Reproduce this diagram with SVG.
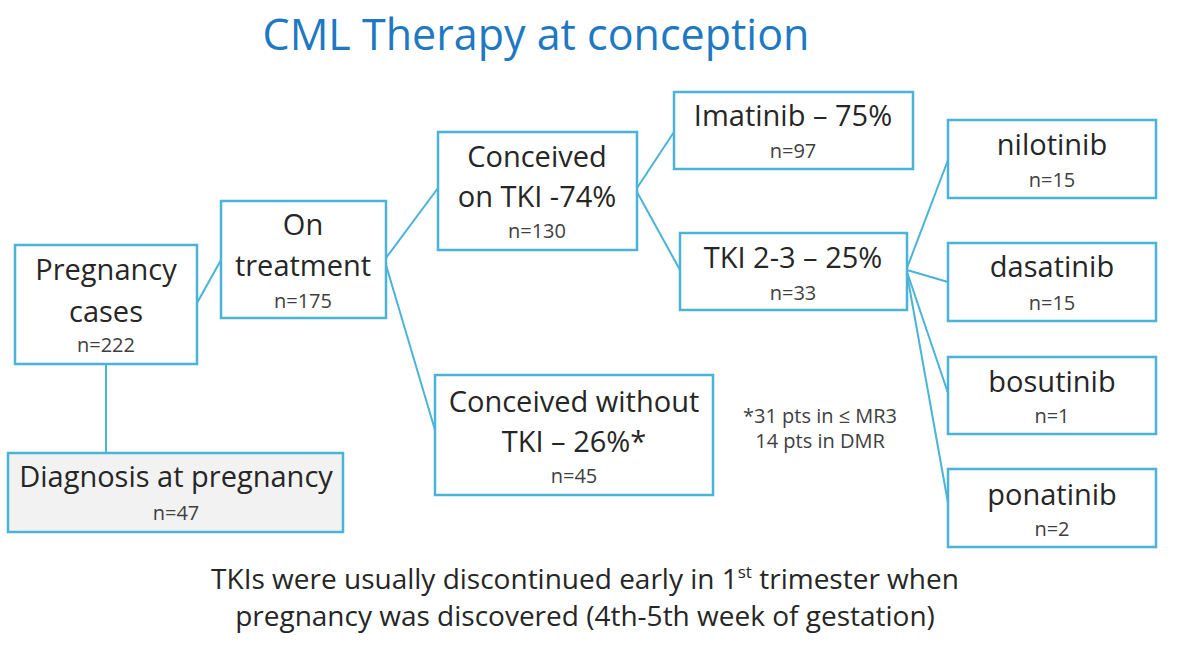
<svg xmlns="http://www.w3.org/2000/svg" width="1200" height="667" viewBox="0 0 1200 667">
<style>
.box{fill:#ffffff;stroke:#4ab3d8;stroke-width:2.5}
.gray{fill:#f2f2f2}
.lbl{font-family:"Open Sans","Noto Sans",sans-serif;font-size:29px;fill:#262626;text-anchor:middle}
.n{font-family:"Open Sans","Noto Sans",sans-serif;font-size:20px;fill:#404040;text-anchor:middle}
.con{stroke:#4ab3d8;stroke-width:2;fill:none}
.title{font-family:"Open Sans","Noto Sans",sans-serif;font-size:43px;fill:#1e78c2;text-anchor:middle}
.foot{font-family:"Open Sans","Noto Sans",sans-serif;font-size:28px;fill:#262626;text-anchor:middle}
</style>
<rect x="0" y="0" width="1200" height="667" fill="#ffffff"/>
<text class="title" x="536" y="50">CML Therapy at conception</text>
<g id="connectors">
<line class="con" x1="197" y1="303" x2="221" y2="260"/>
<line class="con" x1="106" y1="364" x2="106" y2="453"/>
<line class="con" x1="386" y1="258" x2="438" y2="188"/>
<line class="con" x1="386" y1="265" x2="435" y2="430"/>
<line class="con" x1="637" y1="188" x2="674" y2="132"/>
<line class="con" x1="637" y1="192" x2="680" y2="270"/>
<line class="con" x1="907" y1="268" x2="948" y2="160"/>
<line class="con" x1="907" y1="270" x2="948" y2="282"/>
<line class="con" x1="907" y1="272" x2="948" y2="393"/>
<line class="con" x1="907" y1="274" x2="948" y2="503"/>
</g>
<g id="pregnancy">
<rect class="box" x="15" y="245" width="182" height="119"/>
<text class="lbl" x="106" y="280">Pregnancy</text>
<text class="lbl" x="106" y="322">cases</text>
<text class="n" x="106" y="352">n=222</text>
</g>
<g id="diagnosis">
<rect class="box gray" x="8" y="453" width="335" height="79"/>
<text class="lbl" x="176" y="487">Diagnosis at pregnancy</text>
<text class="n" x="176" y="520">n=47</text>
</g>
<g id="ontreatment">
<rect class="box" x="221" y="201" width="165" height="117"/>
<text class="lbl" x="303" y="235">On</text>
<text class="lbl" x="303" y="276">treatment</text>
<text class="n" x="303" y="308">n=175</text>
</g>
<g id="conceivedtki">
<rect class="box" x="438" y="132" width="199" height="118"/>
<text class="lbl" x="537" y="167">Conceived</text>
<text class="lbl" x="537" y="207">on TKI -74%</text>
<text class="n" x="537" y="238">n=130</text>
</g>
<g id="conceivedwithout">
<rect class="box" x="435" y="375" width="278" height="120"/>
<text class="lbl" x="574" y="412">Conceived without</text>
<text class="lbl" x="574" y="452">TKI – 26%*</text>
<text class="n" x="574" y="483">n=45</text>
</g>
<g id="imatinib">
<rect class="box" x="674" y="92" width="239" height="77"/>
<text class="lbl" x="793" y="126">Imatinib – 75%</text>
<text class="n" x="793" y="158">n=97</text>
</g>
<g id="tki23">
<rect class="box" x="680" y="233" width="227" height="77"/>
<text class="lbl" x="793" y="268">TKI 2-3 – 25%</text>
<text class="n" x="793" y="300">n=33</text>
</g>
<g id="nilotinib">
<rect class="box" x="948" y="120" width="208" height="78"/>
<text class="lbl" x="1052" y="155">nilotinib</text>
<text class="n" x="1052" y="187">n=15</text>
</g>
<g id="dasatinib">
<rect class="box" x="948" y="243" width="208" height="78"/>
<text class="lbl" x="1052" y="277">dasatinib</text>
<text class="n" x="1052" y="310">n=15</text>
</g>
<g id="bosutinib">
<rect class="box" x="948" y="357" width="208" height="77"/>
<text class="lbl" x="1052" y="392">bosutinib</text>
<text class="n" x="1052" y="423">n=1</text>
</g>
<g id="ponatinib">
<rect class="box" x="948" y="469" width="208" height="78"/>
<text class="lbl" x="1052" y="505">ponatinib</text>
<text class="n" x="1052" y="536">n=2</text>
</g>
<g id="note">
<text class="n" x="820" y="423">*31 pts in ≤ MR3</text>
<text class="n" x="820" y="448">14 pts in DMR</text>
</g>
<g id="footer">
<text class="foot" x="585" y="589">TKIs were usually discontinued early in 1<tspan font-size="17" dy="-11">st</tspan><tspan dy="11"> trimester when</tspan></text>
<text class="foot" x="585" y="626">pregnancy was discovered (4th-5th week of gestation)</text>
</g>
</svg>
